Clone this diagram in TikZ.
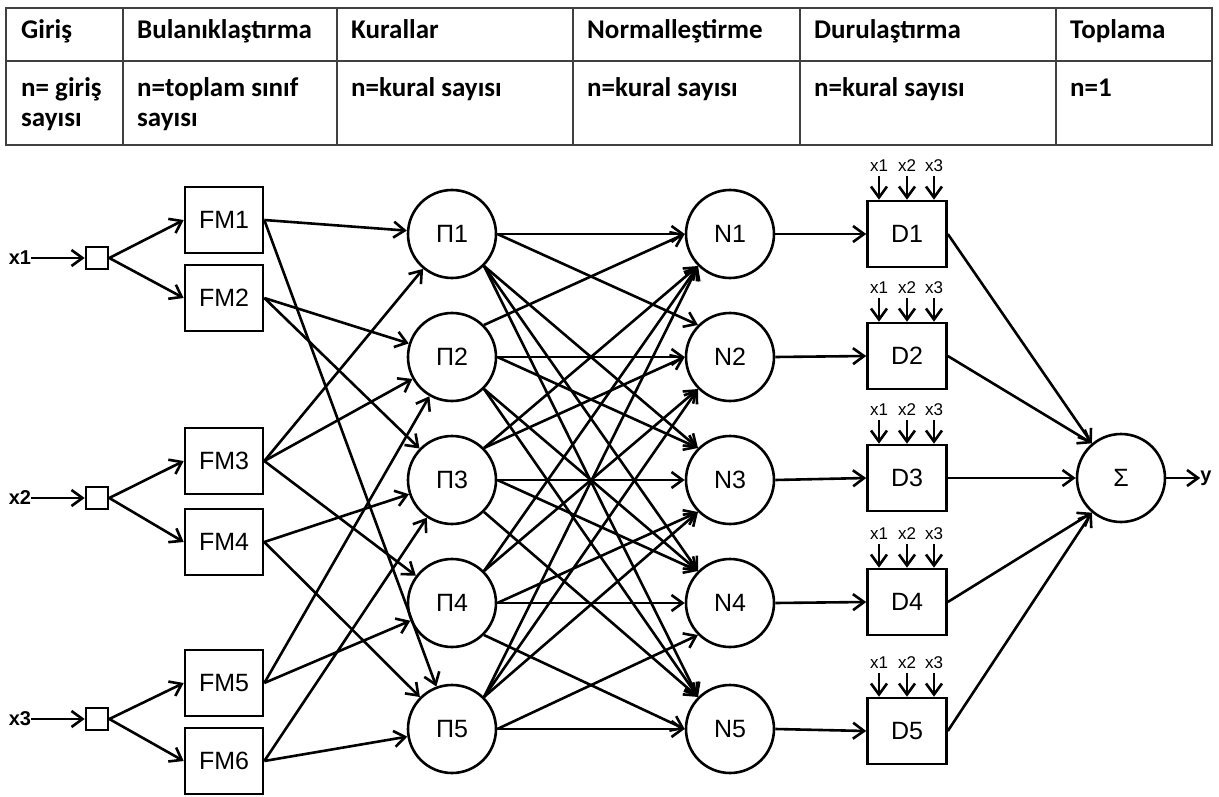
\documentclass[tikz,border=0pt]{standalone}
\usepackage{fontspec}
\setmainfont{Liberation Sans}
\newfontfamily\tabfont{Carlito}
\usetikzlibrary{arrows.meta}
\tikzset{
  conn/.style={line width=2.6pt,-{Straight Barb[length=11pt,width=16pt,line width=2.6pt]}},
  fmbox/.style={draw,line width=2.6pt,minimum width=78pt,minimum height=66pt,inner sep=0pt,font=\fontsize{25}{25}\selectfont},
  dbox/.style={draw,line width=2.6pt,minimum width=79pt,minimum height=66pt,inner sep=0pt,font=\fontsize{25}{25}\selectfont},
  sq/.style={draw,line width=2.6pt,minimum size=22pt,inner sep=0pt},
  cnode/.style={draw,circle,line width=2.6pt,minimum size=88pt,inner sep=0pt,font=\fontsize{25}{25}\selectfont},
  inlab/.style={font=\bfseries\fontsize{20}{20}\selectfont,inner sep=0pt},
  smlab/.style={font=\fontsize{17}{17}\selectfont,inner sep=0pt},
  tline/.style={line width=1.6pt,draw=black!75},
  thead/.style={anchor=base west,inner sep=0pt,font=\tabfont\bfseries\fontsize{27}{27}\selectfont},
}
\begin{document}
\begin{tikzpicture}[x=1pt,y=-1pt]
\useasboundingbox (0,0) rectangle (1219,797);
% ---------- table ----------
\draw[tline] (6,8) rectangle (1212,145);
\draw[tline] (6,61) -- (1212,61);
\foreach \xx in {123,337,573,800,1056}{\draw[tline] (\xx,8) -- (\xx,145);}
\node[thead] (h1) at (21,39) {Giriş};
\node[thead] (h2) at (137,39) {Bulanıklaştırma};
\node[thead] (h3) at (351,39) {Kurallar};
\node[thead] (h4) at (587,39) {Normalleştirme};
\node[thead] (h5) at (814,39) {Durulaştırma};
\node[thead] (h6) at (1070,39) {Toplama};
\node[thead] (r1a) at (21,97) {n= giriş};
\node[thead] (r1b) at (21,127) {sayısı};
\node[thead] (r2a) at (137,97) {n=toplam sınıf};
\node[thead] (r2b) at (137,127) {sayısı};
\node[thead] (r3) at (351,97) {n=kural sayısı};
\node[thead] (r4) at (587,97) {n=kural sayısı};
\node[thead] (r5) at (814,97) {n=kural sayısı};
\node[thead] (r6) at (1070,97) {n=1};
% ---------- inputs ----------
\node[inlab] (x1) at (20,258) {x1};
\node[inlab] (x2) at (20,498) {x2};
\node[inlab] (x3) at (20,719) {x3};
\node[sq] (s1) at (97,258) {};
\node[sq] (s2) at (97,498) {};
\node[sq] (s3) at (97,719) {};
\foreach \i in {1,2,3}{\draw[conn] (x\i.east) -- (s\i.west);}
% ---------- FM ----------
\node[fmbox] (F1) at (224,220) {FM1};
\node[fmbox] (F2) at (224,298) {FM2};
\node[fmbox] (F3) at (224,461) {FM3};
\node[fmbox] (F4) at (224,542) {FM4};
\node[fmbox] (F5) at (224,683) {FM5};
\node[fmbox] (F6) at (224,761) {FM6};
\draw[conn] (s1.east) -- (F1.west);
\draw[conn] (s1.east) -- (F2.west);
\draw[conn] (s2.east) -- (F3.west);
\draw[conn] (s2.east) -- (F4.west);
\draw[conn] (s3.east) -- (F5.west);
\draw[conn] (s3.east) -- (F6.west);
% ---------- Pi ----------
\node[cnode] (P1) at (452,234) {Π1};
\node[cnode] (P2) at (452,357) {Π2};
\node[cnode] (P3) at (452,480) {Π3};
\node[cnode] (P4) at (452,603) {Π4};
\node[cnode] (P5) at (452,729) {Π5};
\draw[conn] (F1.east) -- (P1);
\draw[conn] (F1.east) -- (P5);
\draw[conn] (F2.east) -- (P2);
\draw[conn] (F2.east) -- (P3);
\draw[conn] (F3.east) -- (P1);
\draw[conn] (F3.east) -- (P2);
\draw[conn] (F3.east) -- (P4);
\draw[conn] (F4.east) -- (P3);
\draw[conn] (F4.east) -- (P5);
\draw[conn] (F5.east) -- (P2);
\draw[conn] (F5.east) -- (P4);
\draw[conn] (F6.east) -- (P3);
\draw[conn] (F6.east) -- (P5);
% ---------- N ----------
\node[cnode] (N1) at (730,234) {N1};
\node[cnode] (N2) at (730,357) {N2};
\node[cnode] (N3) at (730,480) {N3};
\node[cnode] (N4) at (730,603) {N4};
\node[cnode] (N5) at (730,729) {N5};
% Pi1
\draw[conn] (P1.east) -- (N1.west);
\draw[conn] (P1.east) -- (N2.135);
\draw[conn] (P1.-45) -- (N3.135);
\draw[conn] (P1.-45) -- (N4.135);
\draw[conn] (P1.-45) -- (N5.135);
% Pi2
\draw[conn] (P2.45) -- (N1.west);
\draw[conn] (P2.east) -- (N2.west);
\draw[conn] (P2.east) -- (N3.135);
\draw[conn] (P2.-45) -- (N4.135);
\draw[conn] (P2.-45) -- (N5.135);
% Pi3
\draw[conn] (P3.45) -- (N1.225);
\draw[conn] (P3.45) -- (N2.west);
\draw[conn] (P3.east) -- (N3.west);
\draw[conn] (P3.east) -- (N4.135);
\draw[conn] (P3.-45) -- (N5.135);
% Pi4
\draw[conn] (P4.45) -- (N1.225);
\draw[conn] (P4.45) -- (N2.225);
\draw[conn] (P4.east) -- (N3.225);
\draw[conn] (P4.east) -- (N4.west);
\draw[conn] (P4.-45) -- (N5.west);
% Pi5
\draw[conn] (P5.45) -- (N1.225);
\draw[conn] (P5.45) -- (N2.225);
\draw[conn] (P5.45) -- (N3.225);
\draw[conn] (P5.east) -- (N4.225);
\draw[conn] (P5.east) -- (N5.west);
% ---------- D ----------
\foreach \i/\yy in {1/234,2/356,3/478,4/602,5/731}{
  \node[dbox] (D\i) at (907,\yy) {D\i};
  \draw[conn] (N\i.east) -- (D\i.west);
  \coordinate (ta\i) at (879,\yy-58);
  \coordinate (tb\i) at (907,\yy-58);
  \coordinate (tc\i) at (934,\yy-58);
  \node[smlab] (la\i) at (879,\yy-68) {x1};
  \node[smlab] (lb\i) at (907,\yy-68) {x2};
  \node[smlab] (lc\i) at (934,\yy-68) {x3};
  \draw[conn] (ta\i) -- (D\i.north -| ta\i);
  \draw[conn] (tb\i) -- (D\i.north -| tb\i);
  \draw[conn] (tc\i) -- (D\i.north -| tc\i);
}
% ---------- Sigma ----------
\node[cnode] (S) at (1121,478) {Σ};
\draw[conn] (D1.east) -- (S.130);
\draw[conn] (D2.east) -- (S.130);
\draw[conn] (D3.east) -- (S.west);
\draw[conn] (D4.east) -- (S.230);
\draw[conn] (D5.east) -- (S.230);
\node[inlab] (y) at (1206,478) {y};
\draw[conn] (S.east) -- (y.west);
\end{tikzpicture}
\end{document}
